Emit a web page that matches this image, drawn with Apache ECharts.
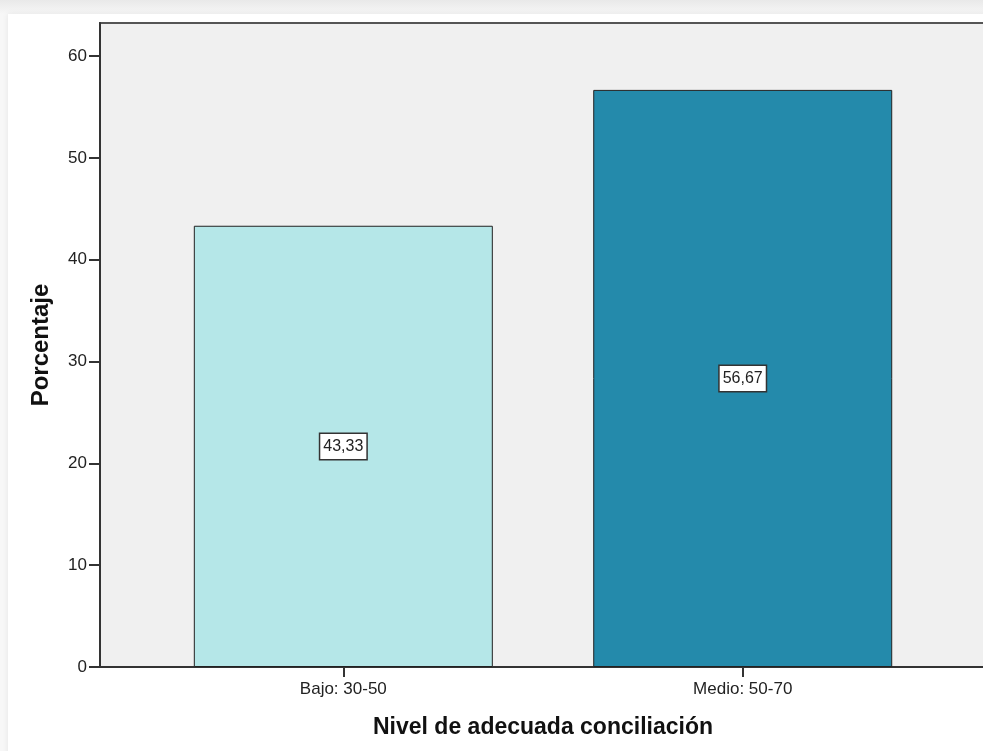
<!DOCTYPE html>
<html>
<head>
<meta charset="utf-8">
<script src="https://cdn.jsdelivr.net/npm/echarts@6/dist/echarts.min.js"></script>
<style>
  html, body { margin: 0; padding: 0; }
  body {
    width: 983px; height: 751px; overflow: hidden; position: relative;
    background: linear-gradient(to bottom, #e9e9e9 0px, #f4f4f4 11px, #f7f7f7 14px);
  }
  #card {
    position: absolute; left: 8px; top: 14px; width: 990px; height: 760px;
    background: #ffffff; box-shadow: 0 0 6px rgba(0,0,0,0.08);
  }
  #chart { position: absolute; left: 0; top: 0; width: 983px; height: 751px; }
</style>
</head>
<body>
<div id="card"></div>
<div id="chart"></div>
<script>
// Nivel de adecuada conciliación — porcentaje por categoría
const categories = ['Bajo: 30-50', 'Medio: 50-70'];
const percentages = [43.33, 56.67];
const yTickValues = [0, 10, 20, 30, 40, 50, 60];
const barColors = ['#b5e7e8', '#248aab'];

const FONT = 'Arial, "Liberation Sans", sans-serif';
const catPositions = categories.map((c, i) => i + 1);

const chart = echarts.init(document.getElementById('chart'), null, { renderer: 'canvas' });

chart.setOption({
  animation: false,
  backgroundColor: 'transparent',
  grid: {
    show: true,
    outerBoundsMode: 'none',
    left: 100, right: -3, top: 23, bottom: 84,
    backgroundColor: '#f0f0f0',
    borderColor: '#555555',
    borderWidth: 2
  },
  xAxis: {
    type: 'value',
    min: 0.3908,
    max: 2.6091,
    splitLine: { show: false },
    axisLine: { show: true, lineStyle: { color: '#333333', width: 2 } },
    axisTick: { show: true, customValues: catPositions, length: 10, lineStyle: { color: '#333333', width: 2 } },
    axisLabel: {
      customValues: catPositions,
      formatter: v => categories[Math.round(v) - 1],
      fontFamily: FONT, fontSize: 17, color: '#222222', margin: 14
    },
    name: 'Nivel de adecuada conciliación',
    nameLocation: 'middle',
    nameGap: 49,
    nameTextStyle: { fontFamily: FONT, fontSize: 23, fontWeight: 'bold', color: '#111111' }
  },
  yAxis: {
    type: 'value',
    min: 0,
    max: 63.24,
    splitLine: { show: false },
    axisLine: { show: true, lineStyle: { color: '#333333', width: 2 } },
    axisTick: { show: true, customValues: yTickValues, length: 11, lineStyle: { color: '#333333', width: 2 } },
    axisLabel: {
      customValues: yTickValues,
      fontFamily: FONT, fontSize: 17, color: '#222222', margin: 13
    },
    name: 'Porcentaje',
    nameLocation: 'middle',
    nameGap: 47,
    nameTextStyle: { fontFamily: FONT, fontSize: 24, fontWeight: 'bold', color: '#111111' }
  },
  series: [{
    type: 'bar',
    barWidth: 299,
    data: percentages.map((v, i) => ({
      value: [catPositions[i], v],
      itemStyle: { color: barColors[i], borderColor: '#222222', borderWidth: 1 }
    })),
    label: {
      show: true,
      position: 'inside',
      formatter: p => p.value[1].toFixed(2).replace('.', ','),
      fontFamily: FONT, fontSize: 16, color: '#222222',
      backgroundColor: '#ffffff',
      borderColor: '#333333', borderWidth: 1.5,
      padding: [5, 3, 4, 3]
    }
  }]
});
</script>
</body>
</html>
